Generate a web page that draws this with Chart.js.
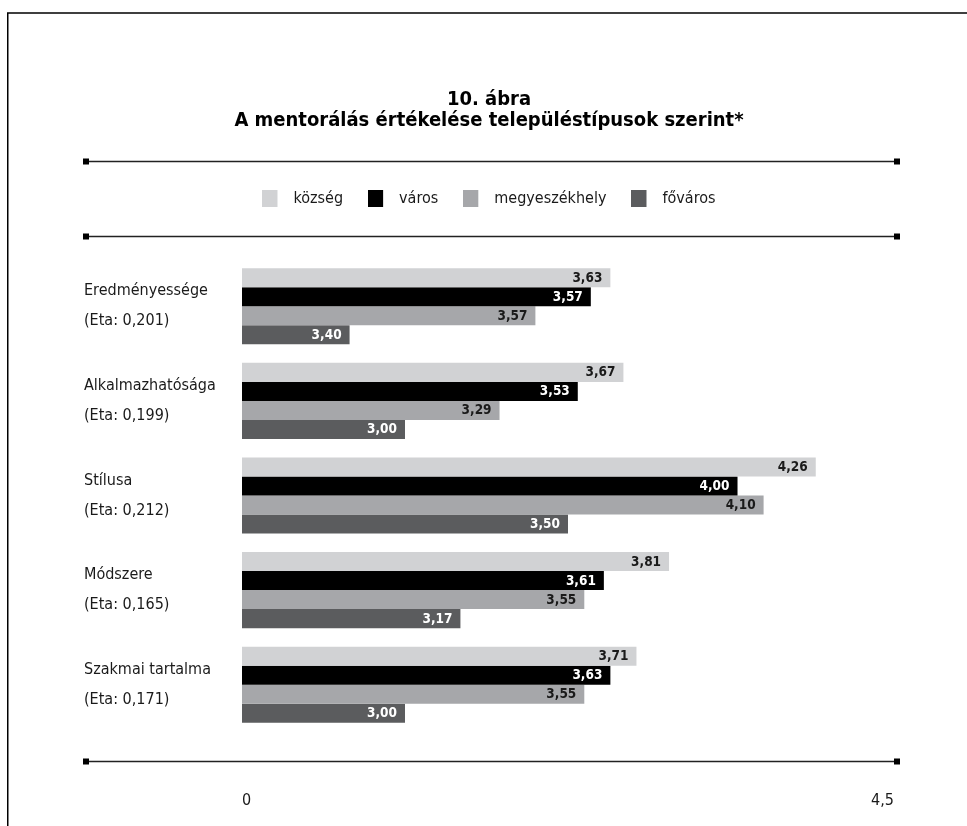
<!DOCTYPE html>
<html><head><meta charset="utf-8">
<script src="https://cdn.jsdelivr.net/npm/chart.js@4.4.1/dist/chart.umd.min.js"></script>
<style>html,body{margin:0;padding:0;background:#fff;}canvas{display:block;}</style>
</head><body>
<canvas id="c" width="967" height="826"></canvas>
<script>
// ---- data ----
const titleLines = ["10. ábra", "A mentorálás értékelése településtípusok szerint*"];
const categories = [
  ["Eredményessége", "(Eta: 0,201)"],
  ["Alkalmazhatósága", "(Eta: 0,199)"],
  ["Stílusa", "(Eta: 0,212)"],
  ["Módszere", "(Eta: 0,165)"],
  ["Szakmai tartalma", "(Eta: 0,171)"]
];
const seriesNames = ["község", "város", "megyeszékhely", "főváros"];
// bar lengths as drawn in the picture
const kozseg = [3.63, 3.67, 4.26, 3.81, 3.71];
const varos = [3.57, 3.53, 4.02, 3.61, 3.63];
const megyeszekhely = [3.40, 3.29, 4.10, 3.55, 3.55];
const fovaros = [2.83, 3.00, 3.50, 3.17, 3.00];
// values printed on the bars
const kozsegPrinted = [3.63, 3.67, 4.26, 3.81, 3.71];
const varosPrinted = [3.57, 3.53, 4.00, 3.61, 3.63];
const megyeszekhelyPrinted = [3.57, 3.29, 4.10, 3.55, 3.55];
const fovarosPrinted = [3.40, 3.00, 3.50, 3.17, 3.00];
const xMin = 2.5, xMax = 4.5;
const xTickLabels = ["0", "4,5"];

// ---- style ----
const FONT = '"DejaVu Sans Condensed", "Liberation Sans Narrow", Roboto, sans-serif';
const colors = ["#d1d2d4", "#000000", "#a6a7aa", "#5b5c5e"];
const valueColors = ["#1a1a1a", "#ffffff", "#1a1a1a", "#ffffff"];
const seriesData = [kozseg, varos, megyeszekhely, fovaros];
const printed = [kozsegPrinted, varosPrinted, megyeszekhelyPrinted, fovarosPrinted];

Chart.defaults.font.family = FONT;
Chart.defaults.color = "#1a1a1a";

function swatch(color) {
  const c = document.createElement("canvas");
  c.width = 23; c.height = 17;
  const g = c.getContext("2d");
  g.fillStyle = color; g.fillRect(0, 0, 15, 17);
  return c;
}

const deco = {
  id: "deco",
  beforeDraw(chart) {
    const ctx = chart.ctx;
    ctx.save();
    ctx.fillStyle = "#fff";
    ctx.fillRect(0, 0, chart.width, chart.height);
    ctx.strokeStyle = "#000"; ctx.lineWidth = 1.5;
    ctx.beginPath(); ctx.moveTo(7.75, chart.height); ctx.lineTo(7.75, 13); ctx.lineTo(chart.width, 13); ctx.stroke();
    [161.5, 236.5, 761.5].forEach(y => {
      ctx.strokeStyle = "#222"; ctx.lineWidth = 1.5;
      ctx.beginPath(); ctx.moveTo(86, y); ctx.lineTo(897, y); ctx.stroke();
      ctx.fillStyle = "#000";
      ctx.fillRect(83, y - 3, 6, 6); ctx.fillRect(894, y - 3, 6, 6);
    });
    ctx.restore();
  }
};

const valueLabels = {
  id: "valueLabels",
  afterDatasetsDraw(chart) {
    const ctx = chart.ctx;
    ctx.save();
    ctx.font = 'bold 13.5px ' + FONT;
    ctx.textAlign = "right";
    ctx.textBaseline = "middle";
    chart.data.datasets.forEach((ds, i) => {
      const meta = chart.getDatasetMeta(i);
      meta.data.forEach((bar, j) => {
        ctx.fillStyle = valueColors[i];
        ctx.fillText(printed[i][j].toFixed(2).replace(".", ","), bar.x - 8, bar.y + 0.5);
      });
    });
    ctx.restore();
  }
};

new Chart(document.getElementById("c"), {
  type: "bar",
  data: {
    labels: categories,
    datasets: seriesNames.map((n, i) => ({
      label: n,
      data: seriesData[i],
      backgroundColor: colors[i],
      borderWidth: 0,
      categoryPercentage: 0.804,
      barPercentage: 1.0
    }))
  },
  options: {
    indexAxis: "y",
    responsive: false,
    animation: false,
    layout: { padding: { left: 84, right: 73, top: 0, bottom: 16 } },
    scales: {
      x: {
        type: "linear",
        min: xMin, max: xMax,
        grid: { display: false },
        border: { display: false },
        afterBuildTicks: s => { s.ticks = [{ value: xMin }, { value: xMax }]; },
        afterFit: s => { s.height = 78; },
        ticks: {
          align: "inner",
          padding: 51,
          font: { size: 16 },
          color: "#1a1a1a",
          callback: (v, i) => xTickLabels[i]
        }
      },
      xTop: {
        type: "linear", position: "top", axis: "x",
        grid: { display: false }, border: { display: false },
        ticks: { display: false },
        afterFit: s => { s.height = 42.5; }
      },
      y: {
        grid: { display: false },
        border: { display: false },
        afterFit: s => { s.width = 158; },
        ticks: {
          crossAlign: "far",
          font: { size: 16, lineHeight: 1.875 },
          color: "#1a1a1a"
        }
      }
    },
    plugins: {
      title: {
        display: true,
        text: titleLines,
        font: { size: 20, weight: "bold", lineHeight: 1.05 },
        color: "#000",
        padding: { top: 89.5, bottom: 34 }
      },
      legend: {
        display: true,
        position: "top",
        labels: {
          usePointStyle: true,
          pointStyleWidth: 23,
          boxHeight: 16,
          padding: 25,
          font: { size: 16 },
          color: "#1a1a1a",
          generateLabels(chart) {
            const items = Chart.defaults.plugins.legend.labels.generateLabels(chart);
            items.forEach((it, i) => { it.pointStyle = swatch(colors[i]); });
            return items;
          }
        }
      },
      tooltip: { enabled: false }
    }
  },
  plugins: [deco, valueLabels]
});
</script>
</body></html>
